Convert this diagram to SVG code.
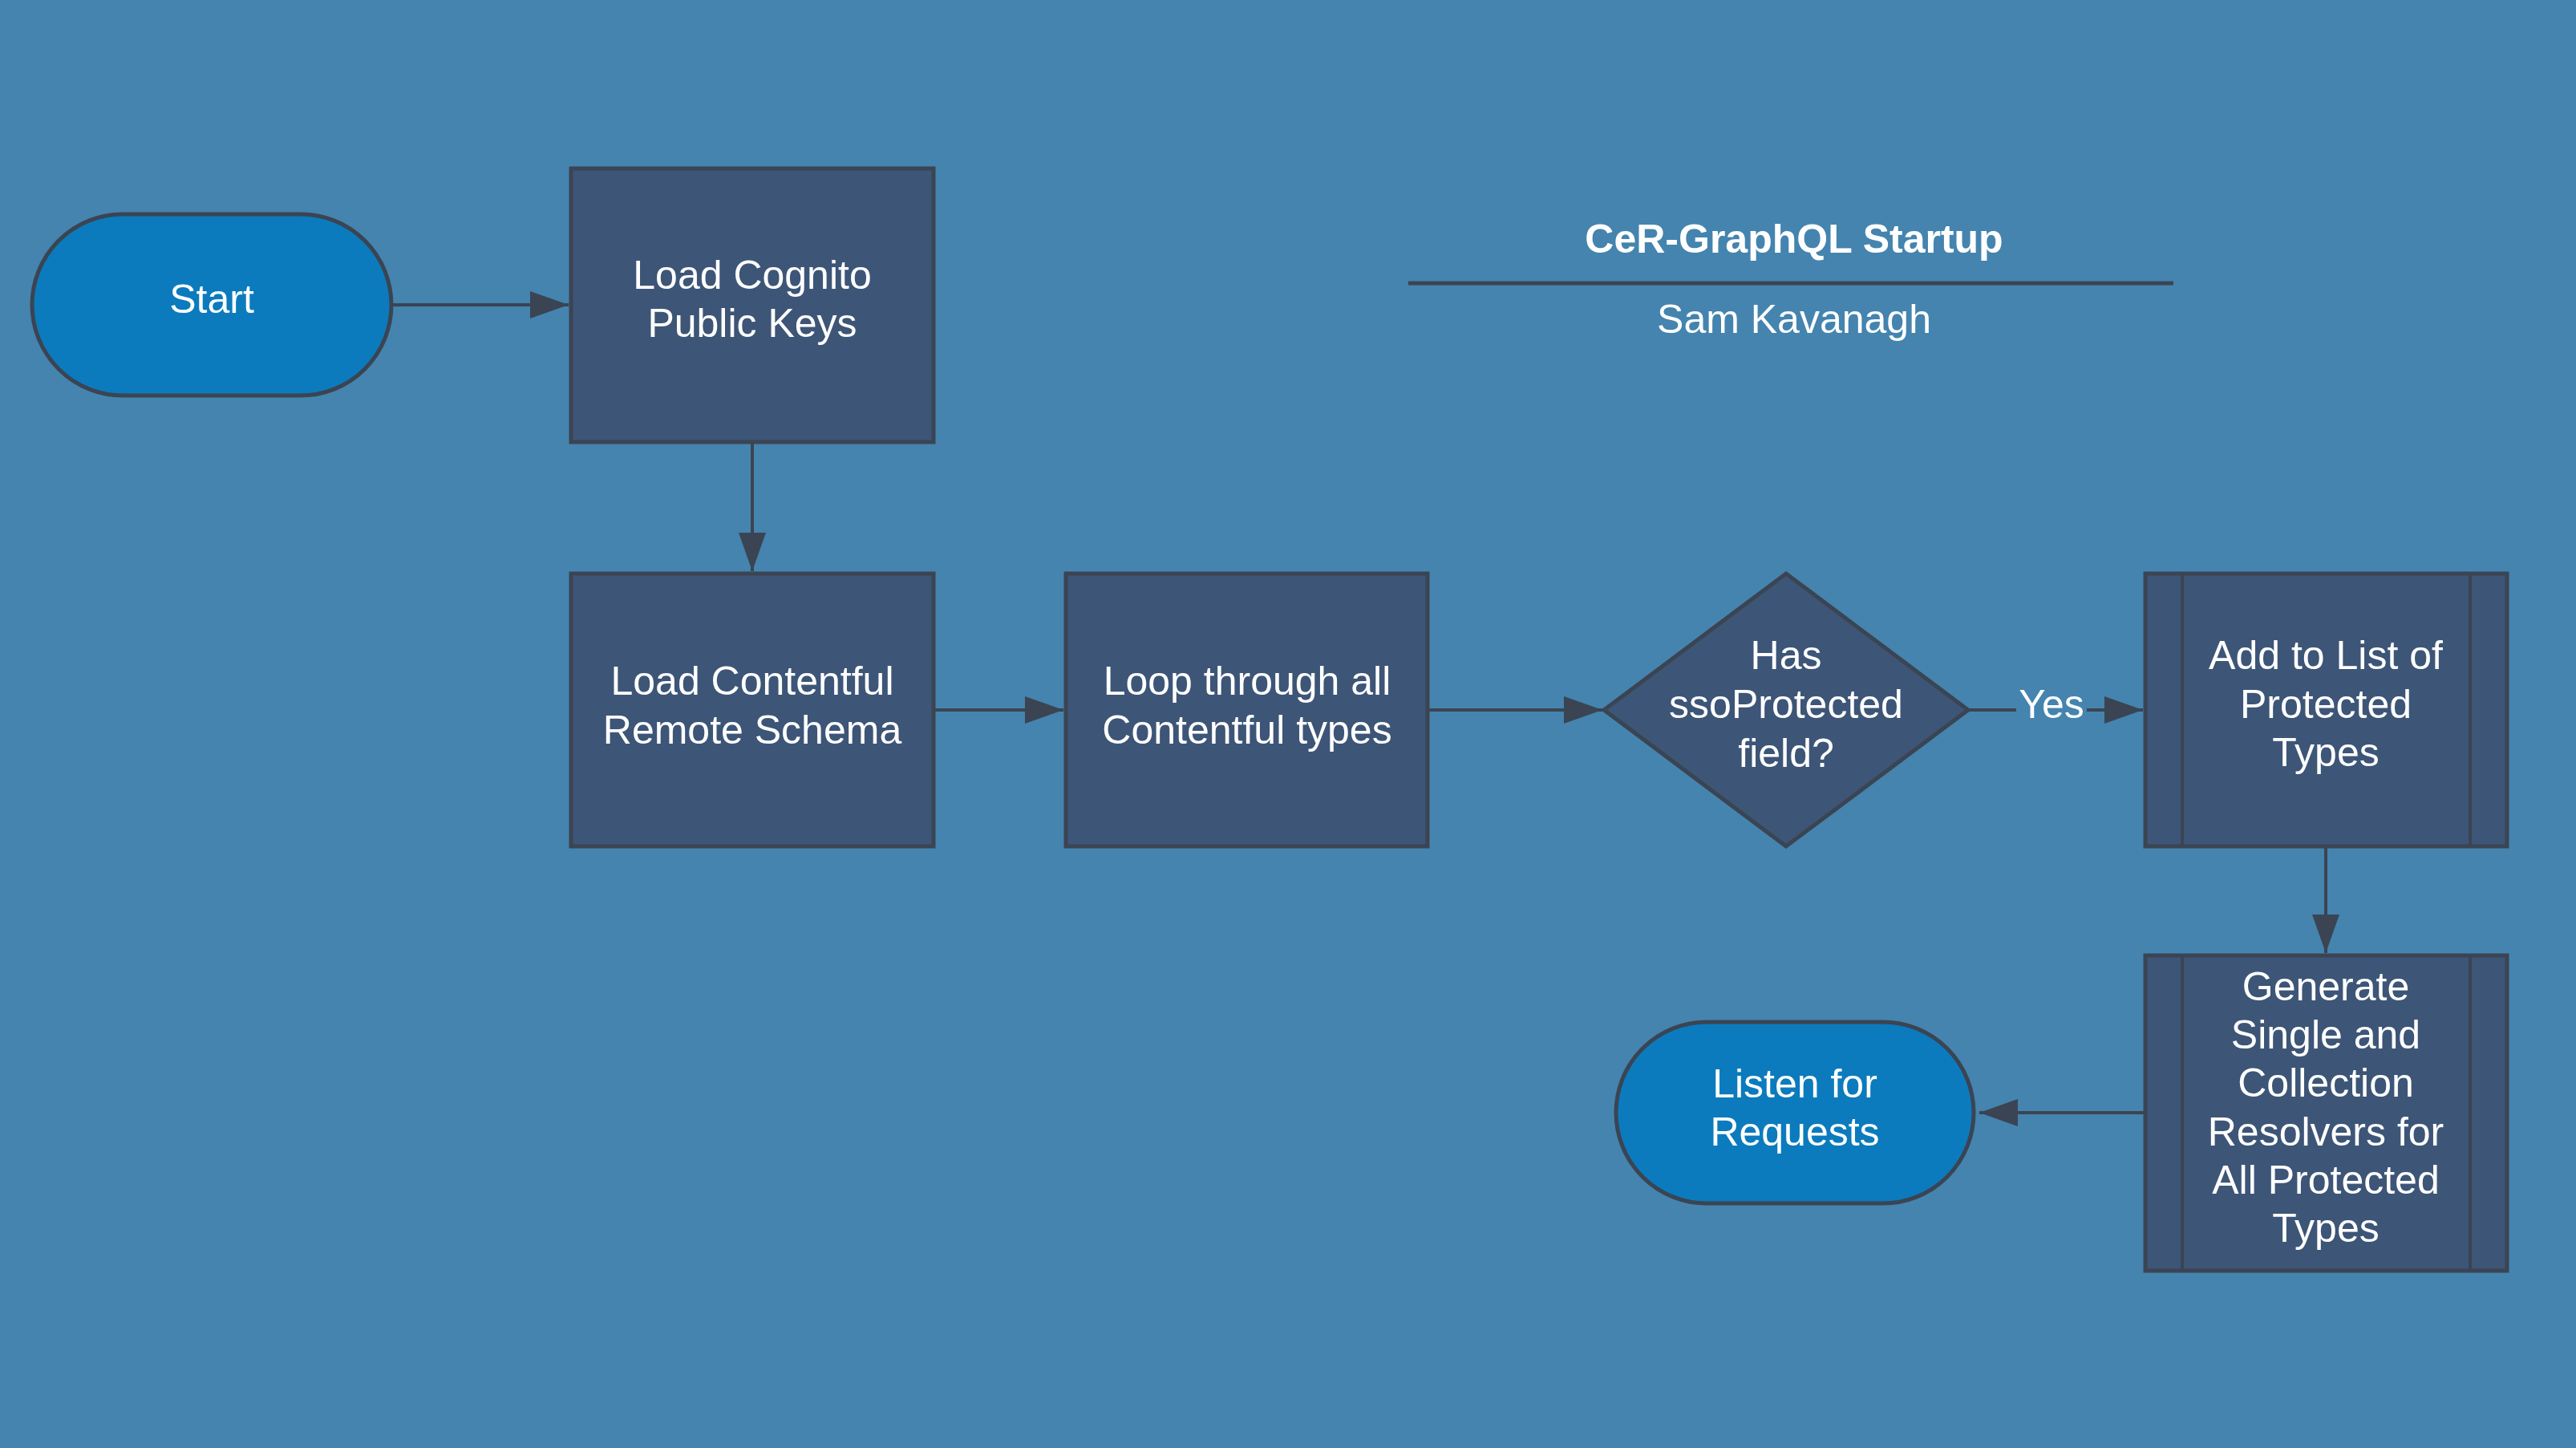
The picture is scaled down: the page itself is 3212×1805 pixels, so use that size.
<svg xmlns="http://www.w3.org/2000/svg" width="3212" height="1805" viewBox="0 0 3212 1805">
<style>
.bg{fill:#4484af}
.box{fill:#3d5577;stroke:#3b4452;stroke-width:5}
.pill{fill:#0b7bbd;stroke:#3b4452;stroke-width:5}
.inner{stroke:#3b4452;stroke-width:4;fill:none}
.t{font-family:"Liberation Sans",Arial,sans-serif;font-size:50px;fill:#ffffff;text-anchor:middle}
.title{font-family:"Liberation Sans",Arial,sans-serif;font-size:50px;font-weight:bold;fill:#ffffff;text-anchor:middle}
.conn{stroke:#3b4452;stroke-width:4;fill:none}
</style>
<defs>
<marker id="ah" markerUnits="userSpaceOnUse" markerWidth="48" markerHeight="34" refX="48" refY="17" orient="auto">
<path d="M0,0 L48,17 L0,34 z" fill="#3b4452"/>
</marker>
</defs>
<rect class="bg" x="0" y="0" width="3212" height="1805"/>

<g id="title">
<text class="title" x="2237" y="315">CeR-GraphQL Startup</text>
<line x1="1756" y1="353" x2="2710" y2="353" stroke="#3b4452" stroke-width="5"/>
<text class="t" x="2237" y="415">Sam Kavanagh</text>
</g>

<g id="connectors">
<line class="conn" x1="488" y1="380" x2="709" y2="380" marker-end="url(#ah)"/>
<line class="conn" x1="938" y1="551" x2="938" y2="712" marker-end="url(#ah)"/>
<line class="conn" x1="1164" y1="885" x2="1326" y2="885" marker-end="url(#ah)"/>
<line class="conn" x1="1780" y1="885" x2="1998" y2="885" marker-end="url(#ah)"/>
<line class="conn" x1="2454" y1="885" x2="2672" y2="885" marker-end="url(#ah)"/>
<rect x="2514" y="848" width="88" height="56" class="bg"/>
<text class="t" x="2558" y="895">Yes</text>
<line class="conn" x1="2900" y1="1055" x2="2900" y2="1188" marker-end="url(#ah)"/>
<line class="conn" x1="2675" y1="1387" x2="2468" y2="1387" marker-end="url(#ah)"/>
</g>

<g id="start">
<rect class="pill" x="40" y="267" width="448" height="226" rx="113" ry="113"/>
<text class="t" x="264" y="390">Start</text>
</g>

<g id="load-cognito">
<rect class="box" x="712" y="210" width="452" height="341"/>
<text class="t" x="938" y="360">Load Cognito</text>
<text class="t" x="938" y="420">Public Keys</text>
</g>

<g id="load-contentful">
<rect class="box" x="712" y="715" width="452" height="340"/>
<text class="t" x="938" y="866">Load Contentful</text>
<text class="t" x="938" y="927">Remote Schema</text>
</g>

<g id="loop">
<rect class="box" x="1329" y="715" width="451" height="340"/>
<text class="t" x="1555" y="866">Loop through all</text>
<text class="t" x="1555" y="927">Contentful types</text>
</g>

<g id="decision">
<polygon class="box" points="2227,715 2454,885 2227,1055 2000,885"/>
<text class="t" x="2227" y="834">Has</text>
<text class="t" x="2227" y="895">ssoProtected</text>
<text class="t" x="2227" y="956">field?</text>
</g>

<g id="add-to-list">
<rect class="box" x="2675" y="715" width="451" height="340"/>
<line class="inner" x1="2721" y1="717" x2="2721" y2="1053"/>
<line class="inner" x1="3080" y1="717" x2="3080" y2="1053"/>
<text class="t" x="2900" y="834">Add to List of</text>
<text class="t" x="2900" y="895">Protected</text>
<text class="t" x="2900" y="955">Types</text>
</g>

<g id="generate">
<rect class="box" x="2675" y="1191" width="451" height="393"/>
<line class="inner" x1="2721" y1="1193" x2="2721" y2="1582"/>
<line class="inner" x1="3080" y1="1193" x2="3080" y2="1582"/>
<text class="t" x="2900" y="1247">Generate</text>
<text class="t" x="2900" y="1307">Single and</text>
<text class="t" x="2900" y="1367">Collection</text>
<text class="t" x="2900" y="1428">Resolvers for</text>
<text class="t" x="2900" y="1488">All Protected</text>
<text class="t" x="2900" y="1548">Types</text>
</g>

<g id="listen">
<rect class="pill" x="2015" y="1274" width="446" height="226" rx="113" ry="113"/>
<text class="t" x="2238" y="1368">Listen for</text>
<text class="t" x="2238" y="1428">Requests</text>
</g>
</svg>
